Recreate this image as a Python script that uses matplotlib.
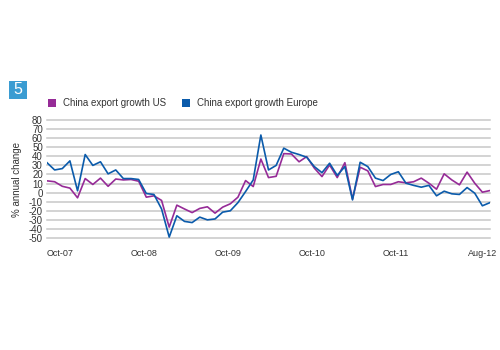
import matplotlib
matplotlib.use("Agg")
import matplotlib.pyplot as plt
from matplotlib.patches import Rectangle
import pandas as pd

months = pd.date_range("2007-10-01", periods=59, freq="MS").strftime("%b-%y").tolist()

china_us = [13, 12, 7, 5, -5.7, 15.5, 9, 16, 7, 15, 14, 14.5, 12.6, -5, -3.5,
            -8.6, -38, -13.8, -18, -22, -17.4, -15.6, -22.6, -16, -12.3, -5, 13.3, 6.7, 37, 16.6,
            18, 43, 42.6, 34, 39.7, 27, 17.7, 30.5, 16.6, 33, -7, 28, 24, 6.7, 9,
            9, 12, 10.8, 12, 16, 10.4, 3.8, 20.7, 14, 8.6, 22.6, 10.4, 0.5, 2.3]

china_eu = [33, 25, 26.5, 35, 2, 42, 30, 34, 20.7, 25, 15.5, 15.5, 14.5, -1, -2,
            -18, -49, -25.5, -31.7, -33, -27, -30, -29, -21.5, -20, -11, 1.2, 14, 63.5, 25,
            30, 49, 44.5, 42, 39, 28.7, 22, 32.4, 19, 28.7, -8, 33.5, 28.7, 16, 13.3,
            20, 23, 10.4, 8, 6, 8, -3.5, 1.6, -1.3, -2, 5.6, -0.6, -14.5, -11]

tick_labels = ["Oct-07", "Oct-08", "Oct-09", "Oct-10", "Oct-11", "Aug-12"]
tick_pos = [1.7, 12.7, 23.7, 34.7, 45.7, 57.0]
y_ticks = list(range(-50, 81, 10))

plt.rcParams["font.family"] = ["Liberation Sans", "DejaVu Sans"]

fig = plt.figure(figsize=(5, 3.5), dpi=100)
ax = fig.add_axes([0.094, 0.32, 0.886, 0.337])

x = list(range(len(months)))
c_us = "#962b97"
c_eu = "#0b5bab"
ax.plot(x, china_us, color=c_us, lw=1.2, zorder=3)
ax.plot(x, china_eu, color=c_eu, lw=1.2, zorder=3)

ax.set_xlim(0, len(months) - 1)
ax.set_ylim(-50, 80)
ax.set_yticks(y_ticks)
ax.set_yticklabels([str(v) for v in y_ticks], fontsize=7, color="#333333")
ax.set_xticks(tick_pos)
ax.set_xticklabels(tick_labels, fontsize=6.5, color="#333333")
ax.tick_params(axis="both", length=0)
ax.tick_params(axis="y", pad=3)
ax.tick_params(axis="x", pad=8)
for v in y_ticks:
    ax.axhline(v, color="#c8c8c8", lw=1.1, zorder=1, clip_on=False)
for s in ax.spines.values():
    s.set_visible(False)
ax.set_ylabel("% annual change", fontsize=7, color="#333333", labelpad=5)

# number badge
fig.patches.append(Rectangle((9 / 500, 1 - 99 / 350), 18 / 500, 18 / 350,
                             transform=fig.transFigure, facecolor="#3a9cd2",
                             edgecolor="none"))
fig.text(18 / 500, 1 - 90 / 350, "5", color="white", fontsize=11.5,
         ha="center", va="center")

# legend
fig.patches.append(Rectangle((48 / 500, 1 - 107 / 350), 7.5 / 500, 7.5 / 350,
                             transform=fig.transFigure, facecolor=c_us, edgecolor="none"))
fig.text(63 / 500, 1 - 103.5 / 350, "China export growth US", fontsize=7.0,
         color="#333333", va="center", ha="left")
fig.patches.append(Rectangle((182 / 500, 1 - 107 / 350), 7.5 / 500, 7.5 / 350,
                             transform=fig.transFigure, facecolor=c_eu, edgecolor="none"))
fig.text(197 / 500, 1 - 103.5 / 350, "China export growth Europe", fontsize=7.0,
         color="#333333", va="center", ha="left")

fig.savefig("out.png", dpi=100)
